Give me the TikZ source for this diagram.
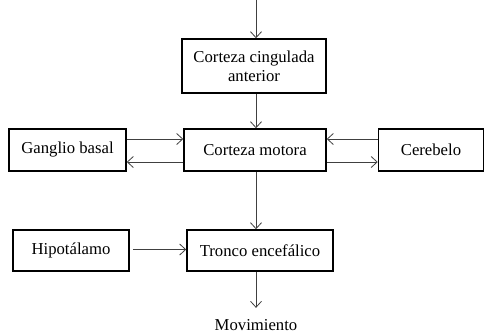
\documentclass[tikz,border=0pt]{standalone}
\usepackage{fontspec}
\setmainfont{Liberation Serif}
\usetikzlibrary{arrows.meta}

\begin{document}
\begin{tikzpicture}[x=1pt, y=-1pt,
        box/.style={draw=black, line width=1.5pt, inner sep=0pt, align=center, font=\fontsize{16.7}{19}\selectfont},
        arr/.style={draw=black!75, line width=0.8pt, -{Straight Barb[length=6pt, width=11pt]}}]
        \useasboundingbox (0, 0) rectangle (485, 333);

        \coordinate (top) at (256, 0);
        \node[box, minimum width=144pt, minimum height=54pt] (cing) at (254, 66) {Corteza cingulada\\anterior};
        \node[box, minimum width=142pt, minimum height=42pt] (motora) at (255, 150) {Corteza motora};
        \node[box, minimum width=117pt, minimum height=42pt] (ganglio) at (67.5, 150) {Ganglio basal};
        \node[box, minimum width=105pt, minimum height=42pt] (cerebelo) at (431, 150) {Cerebelo};
        \node[box, minimum width=146pt, minimum height=41pt] (tronco) at (260, 250.5) {Tronco encef\'alico};
        \node[box, minimum width=116pt, minimum height=41pt] (hipo) at (71, 250.5) {Hipot\'alamo};
        \node[font=\fontsize{16.7}{19}\selectfont] (mov) at (256, 325) {Movimiento};

        \draw[arr] (top) -- (top |- cing.north);
        \draw[arr] (top |- cing.south) -- (top |- motora.north);
        \draw[arr] ([yshift=11pt]ganglio.east) -- ([yshift=11pt]motora.west);
        \draw[arr] ([yshift=-12pt]motora.west) -- ([yshift=-12pt]ganglio.east);
        \draw[arr] ([yshift=11pt]cerebelo.west) -- ([yshift=11pt]motora.east);
        \draw[arr] ([yshift=-12pt]motora.east) -- ([yshift=-12pt]cerebelo.west);
        \draw[arr] (top |- motora.south) -- (top |- tronco.north);
        \draw[arr, shorten <=3pt] ([yshift=1pt]hipo.east) -- ([yshift=1pt]tronco.west);
        \draw[arr, shorten >=8pt] (top |- tronco.south) -- (mov.north);
\end{tikzpicture}
\end{document}
